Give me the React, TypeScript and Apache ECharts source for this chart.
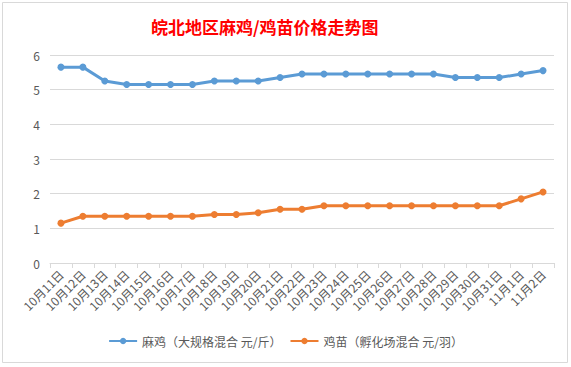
import React, { useEffect, useRef } from "react";
import * as echarts from "echarts";

const categories = [
  "10月11日", "10月12日", "10月13日", "10月14日", "10月15日", "10月16日", "10月17日", "10月18日",
  "10月19日", "10月20日", "10月21日", "10月22日", "10月23日", "10月24日", "10月25日", "10月26日",
  "10月27日", "10月28日", "10月29日", "10月30日", "10月31日", "11月1日", "11月2日",
];
const maJi = [5.65, 5.65, 5.25, 5.15, 5.15, 5.15, 5.15, 5.25, 5.25, 5.25, 5.35, 5.45, 5.45, 5.45, 5.45, 5.45, 5.45, 5.45, 5.35, 5.35, 5.35, 5.45, 5.55];
const jiMiao = [1.15, 1.35, 1.35, 1.35, 1.35, 1.35, 1.35, 1.4, 1.4, 1.45, 1.55, 1.55, 1.65, 1.65, 1.65, 1.65, 1.65, 1.65, 1.65, 1.65, 1.65, 1.85, 2.05];
const seriesNames = ["麻鸡（大规格混合 元/斤）", "鸡苗（孵化场混合 元/羽）"];
const titleText = "皖北地区麻鸡/鸡苗价格走势图";

const FONT = "'Noto Sans CJK SC', 'Microsoft YaHei', sans-serif";

export default function App() {
  const ref = useRef<HTMLDivElement>(null);
  useEffect(() => {
    if (!ref.current) return;
    const chart = echarts.init(ref.current, null, { renderer: "svg" });
    chart.setOption({
      animation: false,
      backgroundColor: "#ffffff",
      textStyle: { fontFamily: FONT },
      graphic: [
        {
          type: "rect",
          shape: { x: 2.5, y: 2.5, width: 565, height: 360 },
          style: { fill: "none", stroke: "#d9d9d9", lineWidth: 1 },
          silent: true,
        },
      ],
      title: {
        text: titleText,
        left: 146,
        top: 13,
        textStyle: { color: "#ff0000", fontSize: 17, fontWeight: "bold", fontFamily: FONT },
      },
      legend: {
        bottom: 15,
        left: "center",
        itemWidth: 28,
        itemHeight: 8,
        itemGap: 8,
        textStyle: { color: "#595959", fontSize: 12, fontFamily: FONT },
        data: seriesNames,
      },
      grid: { left: 50, right: 17, top: 55, bottom: 104, containLabel: false },
      xAxis: {
        type: "category",
        data: categories,
        boundaryGap: true,
        axisLine: { lineStyle: { color: "#d9d9d9" } },
        axisTick: { show: true, length: 5, lineStyle: { color: "#d9d9d9" } },
        axisLabel: { rotate: 45, interval: 0, color: "#595959", fontSize: 12, fontFamily: FONT, margin: 9 },
      },
      yAxis: {
        type: "value",
        min: 0,
        max: 6,
        interval: 1,
        axisLine: { show: false },
        axisTick: { show: false },
        splitLine: { lineStyle: { color: "#d9d9d9" } },
        axisLabel: { color: "#595959", fontSize: 12, fontFamily: FONT, margin: 10 },
      },
      series: [
        {
          name: seriesNames[0],
          type: "line",
          data: maJi,
          symbol: "circle",
          symbolSize: 7,
          lineStyle: { width: 3, color: "#5b9bd5" },
          itemStyle: { color: "#5b9bd5" },
        },
        {
          name: seriesNames[1],
          type: "line",
          data: jiMiao,
          symbol: "circle",
          symbolSize: 7,
          lineStyle: { width: 3, color: "#ed7d31" },
          itemStyle: { color: "#ed7d31" },
        },
      ],
    });
    return () => chart.dispose();
  }, []);
  return <div ref={ref} style={{ width: 571, height: 367, position: "absolute", left: 0, top: 0 }} />;
}
